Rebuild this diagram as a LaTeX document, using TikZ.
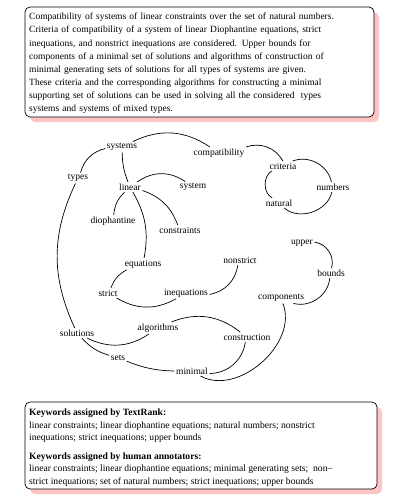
\documentclass[tikz,border=0pt]{standalone}
\usepackage{fontspec}
\setmainfont{Liberation Serif}
\usepackage{tikz, xcolor}

\definecolor{shadowpink}{RGB}{255,196,196}

\tikzset{
  word/.style={font=\fontsize{9.5}{11}\selectfont, inner sep=1.5pt},
  link/.style={line width=0.7pt},
  panel/.style={draw=black, line width=0.7pt, fill=white, rounded corners=5pt},
  panelshadow/.style={fill=shadowpink, rounded corners=5pt}
}

\begin{document}
\begin{tikzpicture}[x=1pt, y=-1pt]
    \useasboundingbox (0, 0) rectangle (404, 504);

    % abstract box
    \fill [panelshadow] (30, 12) rectangle (379, 122);
    \draw [panel] (25, 7) rectangle (374, 117);
    \node [anchor=north west, inner sep=0, text width=342, align=left,
           font=\fontsize{9.5}{13.1}\selectfont] (abstract) at (29, 13)
      {Compatibility of systems of linear constraints over the set of natural numbers.\\
       Criteria of compatibility of a system of linear Diophantine equations, strict\\
       inequations, and nonstrict inequations are considered. Upper bounds for\\
       components of a minimal set of solutions and algorithms of construction of\\
       minimal generating sets of solutions for all types of systems are given.\\
       These criteria and the corresponding algorithms for constructing a minimal\\
       supporting set of solutions can be used in solving all the considered\ \ types\\
       systems and systems of mixed types.};

    % word graph
    \node [word] (systems) at (122, 147) {systems};
    \node [word] (compatibility) at (219, 153) {compatibility};
    \node [word] (types) at (78, 178) {types};
    \node [word] (linear) at (130, 187) {linear};
    \node [word] (system) at (193, 187) {system};
    \node [word] (diophantine) at (113, 221) {diophantine};
    \node [word] (constraints) at (180, 230) {constraints};
    \node [word] (criteria) at (283, 166) {criteria};
    \node [word] (numbers) at (333, 187) {numbers};
    \node [word] (natural) at (279, 203) {natural};
    \node [word] (equations) at (143, 264) {equations};
    \node [word] (strict) at (108, 293) {strict};
    \node [word] (inequations) at (186, 293) {inequations};
    \node [word] (nonstrict) at (240, 260) {nonstrict};
    \node [word] (upper) at (302, 243) {upper};
    \node [word] (bounds) at (331, 273) {bounds};
    \node [word] (components) at (281, 298) {components};
    \node [word] (solutions) at (77, 333) {solutions};
    \node [word] (algorithms) at (158, 328) {algorithms};
    \node [word] (construction) at (247, 337) {construction};
    \node [word] (sets) at (118, 358) {sets};
    \node [word] (minimal) at (192, 371) {minimal};

    \draw [link] (systems) to [bend left=30] (compatibility);
    \draw [link] (compatibility.north east) to [bend left=40] (criteria.north);
    \draw [link] (systems) to [bend right=30] (types);
    \draw [link] (systems) to [bend right=10] (linear);
    \draw [link] (types) to [bend right=25] (solutions);
    \draw [link] (linear) to [bend left=35] (system);
    \draw [link] (linear) to [bend right=20] (diophantine);
    \draw [link] (linear) to [bend left=25] (constraints);
    \draw [link] (linear) to [bend left=20] (equations);
    \draw [link] (criteria) to [bend left=50] (numbers);
    \draw [link] (criteria) to [bend right=60] (natural);
    \draw [link] (natural) to [bend right=60] (numbers);
    \draw [link] (equations) to [bend right=20] (strict);
    \draw [link] (strict) to [bend right=30] (inequations);
    \draw [link] (inequations) to [bend right=35] (nonstrict);
    \draw [link] (upper) to [bend left=50] (bounds);
    \draw [link] (bounds) to [bend left=50] (components);
    \draw [link] (components) to [bend left=70] (minimal);
    \draw [link] (solutions) to [bend right=30] (algorithms);
    \draw [link] (algorithms) to [bend left=30] (construction);
    \draw [link] (construction) to [bend left=40] (minimal);
    \draw [link] (solutions) to [bend right=15] (sets);
    \draw [link] (sets) to [bend right=10] (minimal);

    % keyword box
    \fill [panelshadow] (30, 407) rectangle (382, 494);
    \draw [panel] (25, 402) rectangle (377, 489);
    \node [anchor=north west, inner sep=0, align=left,
           font=\fontsize{9.6}{12.5}\selectfont] (keywords) at (29, 409)
      {\textbf{Keywords assigned by TextRank:}\\
       linear constraints; linear diophantine equations; natural numbers; nonstrict\\
       inequations; strict inequations; upper bounds\\[6pt]
       \textbf{Keywords assigned by human annotators:}\\
       linear constraints; linear diophantine equations; minimal generating sets;\ \ non--\\
       strict inequations; set of natural numbers; strict inequations; upper bounds};

\end{tikzpicture}
\end{document}
